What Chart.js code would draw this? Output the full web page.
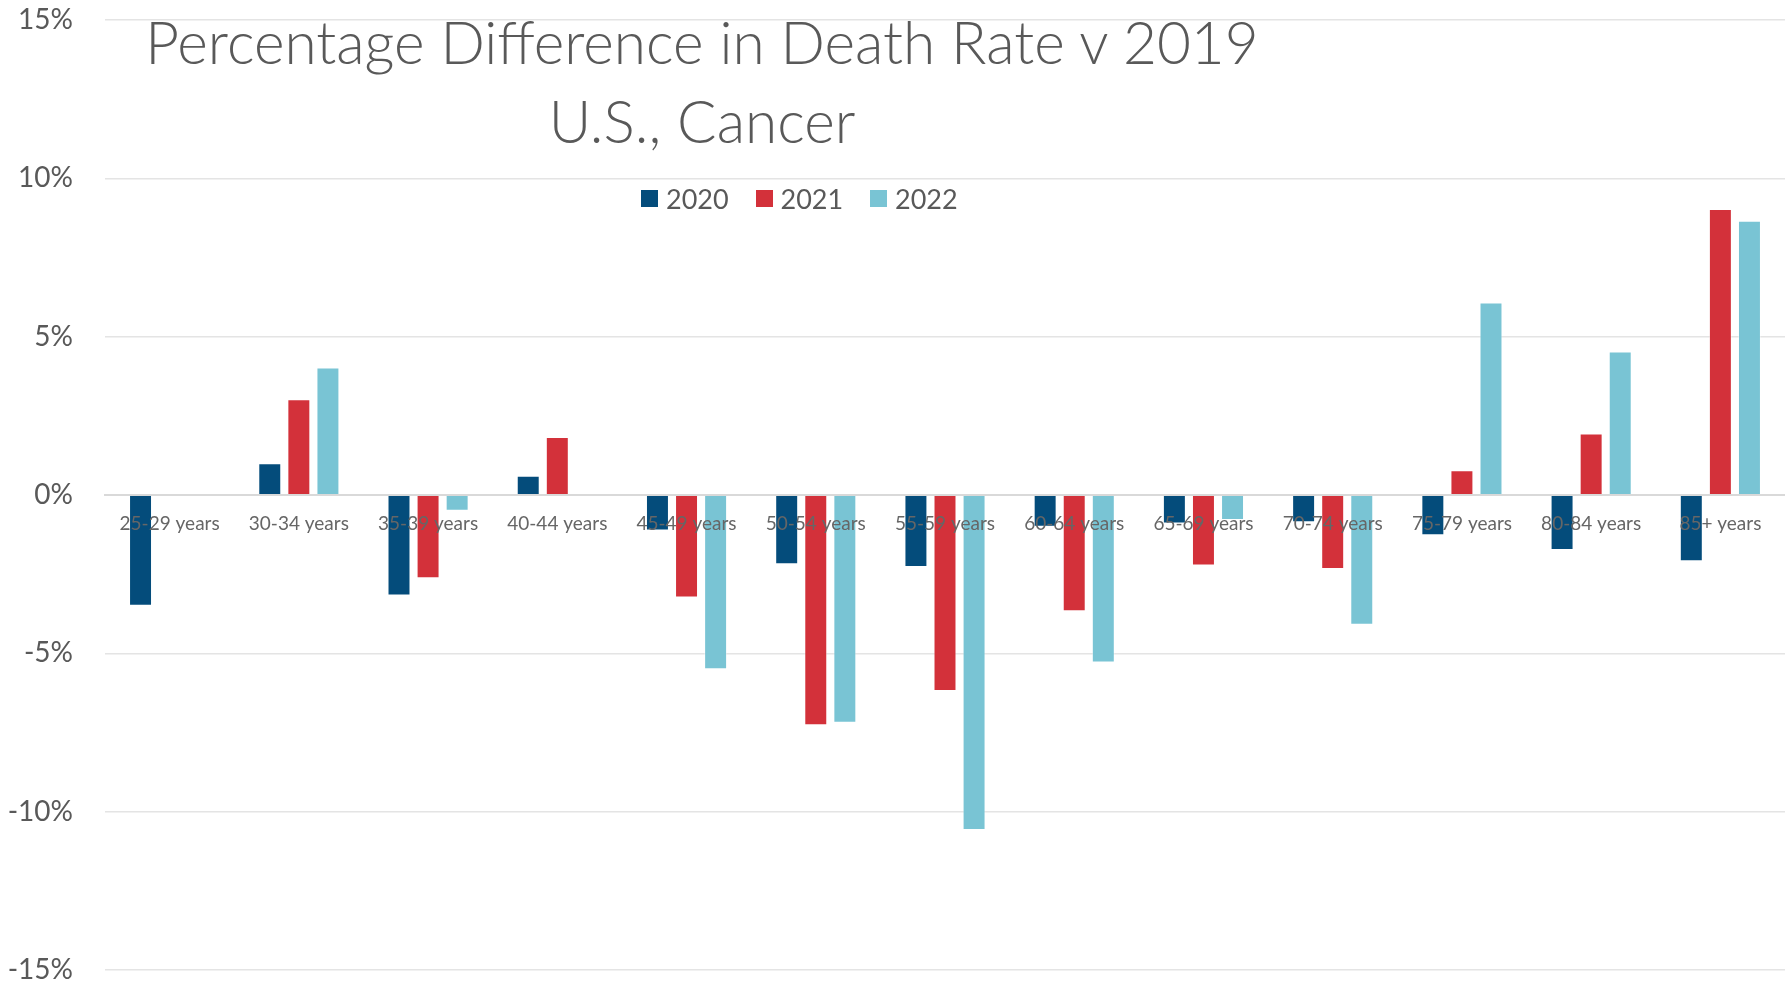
<!DOCTYPE html>
<html>
<head>
<meta charset="utf-8">
<script src="https://cdn.jsdelivr.net/npm/chart.js@4.4.1/dist/chart.umd.min.js"></script>
<style>
  body { margin: 0; background: #fff; font-family: Lato, sans-serif; }
  #wrap { position: relative; width: 1785px; height: 984px; }
  #title { position: absolute; left: 0; width: 1404px; top: 2px; text-align: center; color: #595959;
           font-size: 58.5px; font-weight: 300; line-height: 79px; pointer-events: none; }
  #legend { position: absolute; top: 182px; left: 641px; display: flex; color: #595959;
            font-size: 27px; pointer-events: none; }
  #legend .item { display: flex; align-items: center; width: 114.5px; }
  #legend .box { width: 17px; height: 17px; margin-right: 8px; }
</style>
</head>
<body>
<div id="wrap">
  <canvas id="chartCancer"></canvas>
  <div id="title">Percentage Difference in Death Rate v 2019<br>U.S., Cancer</div>
  <div id="legend"></div>
</div>
<script>
const ageGroups = ['25-29 years', '30-34 years', '35-39 years', '40-44 years', '45-49 years', '50-54 years',
  '55-59 years', '60-64 years', '65-69 years', '70-74 years', '75-79 years', '80-84 years', '85+ years'];
const years = ['2020', '2021', '2022'];
const colors = ['#044C7B', '#D3313A', '#79C4D4'];

// percent difference vs 2019
const diff2020 = [-3.5, 1.0, -3.17, 0.61, -1.12, -2.19, -2.27, -1.0, -0.9, -0.86, -1.27, -1.74, -2.09];
const diff2021 = [null, 3.02, -2.63, 1.83, -3.24, -7.27, -6.19, -3.67, -2.23, -2.34, 0.78, 1.94, 9.03];
const diff2022 = [null, 4.03, -0.5, null, -5.5, -7.19, -10.58, -5.29, -0.79, -4.1, 6.08, 4.53, 8.66];
const yTicks = [-15, -10, -5, 0, 5, 10, 15];

const series = [diff2020, diff2021, diff2022];

const legendBox = document.getElementById('legend');
years.forEach((y, i) => {
    legendBox.innerHTML += `<div class="item"><span class="box" style="background:${colors[i]}"></span>${y}</div>`;
});

Chart.defaults.font.family = "Lato, 'Open Sans', sans-serif";
Chart.defaults.color = '#595959';

new Chart(document.getElementById('chartCancer').getContext('2d'), {
    type: 'bar',
    data: {
        labels: ageGroups,
        datasets: years.map((y, i) => ({
            label: y,
            data: series[i],
            backgroundColor: colors[i],
            borderColor: 'rgba(255,255,255,0.4)',
            borderWidth: 1,
            categoryPercentage: 0.675,
            barPercentage: 0.79
        }))
    },
    options: {
        responsive: true,
        maintainAspectRatio: false,
        animation: false,
        layout: { padding: { top: 20, bottom: 14, left: 0, right: 0 } },
        plugins: {
            legend: { display: false },
            title: { display: false },
            tooltip: { enabled: false }
        },
        scales: {
            x: {
                position: { y: 0 },
                grid: { display: false, drawTicks: false },
                border: { display: true, color: '#d9d9d9', width: 2, z: 1 },
                ticks: { z: 1, padding: 17, color: '#666666', font: { size: 19 }, maxRotation: 0, autoSkip: false }
            },
            y: {
                min: -15,
                max: 15,
                afterFit: (scale) => { scale.width = 105; },
                afterBuildTicks: (scale) => { scale.ticks = yTicks.map(v => ({ value: v })); },
                // tick marks used only as the gap between labels and plot
                grid: { color: '#e4e4e4', lineWidth: 1.5, drawTicks: true, tickLength: 32, tickColor: 'rgba(0,0,0,0)' },
                border: { display: false },
                ticks: {
                    padding: 0,
                    font: { size: 28, lineHeight: 1 },
                    callback: (value) => value + '%'
                }
            }
        }
    }
});
</script>
</body>
</html>
